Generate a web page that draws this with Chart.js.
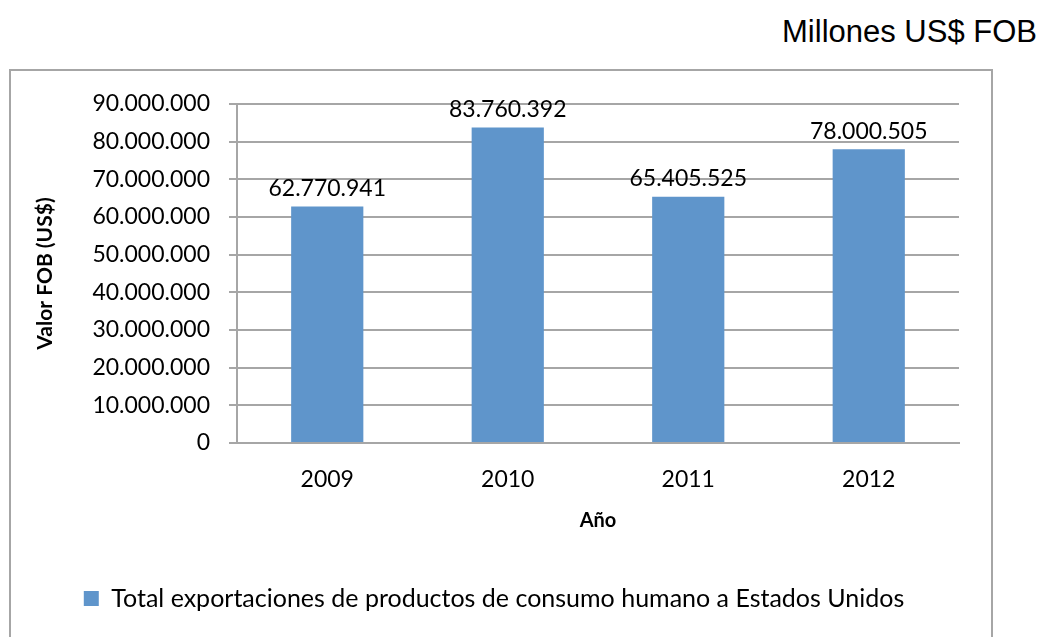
<!DOCTYPE html>
<html>
<head>
<meta charset="utf-8">
<script src="https://cdn.jsdelivr.net/npm/chart.js@4/dist/chart.umd.min.js"></script>
<style>
  html, body { margin: 0; padding: 0; background: #fff; overflow: hidden; }
  #unidad {
    position: absolute; right: 10px; top: 14px;
    font-family: "Liberation Sans", Arial, sans-serif; font-size: 31px; color: #000;
  }
  #marco {
    position: absolute; left: 9px; top: 69px;
    width: 980px; height: 600px;
    border: 2px solid #a6a6a6;
  }
</style>
</head>
<body>
<div id="unidad">Millones US$ FOB</div>
<div id="marco"><canvas id="exportChart" width="980" height="600"></canvas></div>
<script>
// Datos: exportaciones a Estados Unidos por año
const anios = ['2009', '2010', '2011', '2012'];
const valoresFOB = [62770941, 83760392, 65405525, 78000505];
const serieNombre = 'Total exportaciones de productos de consumo humano a Estados Unidos';
const ejeY = { min: 0, max: 90000000, paso: 10000000 };

const fuente = 'Lato';
const gris = '#a6a6a6';

// Formato con punto como separador de miles
function formatoMiles(v) {
    return String(Math.round(v)).replace(/\B(?=(\d{3})+(?!\d))/g, '.');
}

// Etiquetas de valor sobre cada barra
const etiquetasValor = {
    id: 'etiquetasValor',
    afterDatasetsDraw(chart) {
        const ctx = chart.ctx;
        const meta = chart.getDatasetMeta(0);
        ctx.save();
        ctx.font = '23px ' + fuente;
        ctx.fillStyle = '#000';
        ctx.textAlign = 'center';
        ctx.textBaseline = 'middle';
        meta.data.forEach((bar, i) => {
            ctx.fillText(formatoMiles(chart.data.datasets[0].data[i]), bar.x, bar.y - 18);
        });
        ctx.restore();
    }
};

const ctx = document.getElementById('exportChart').getContext('2d');
const exportChart = new Chart(ctx, {
    type: 'bar',
    data: {
        labels: anios,
        datasets: [{
            label: serieNombre,
            data: valoresFOB,
            backgroundColor: '#5f95cb',
            borderWidth: 0,
            barPercentage: 0.4,
            categoryPercentage: 1.0
        }]
    },
    options: {
        responsive: false,
        animation: false,
        layout: { padding: { left: 18, right: 32, top: 33, bottom: 50 } },
        plugins: {
            tooltip: { enabled: false },
            legend: {
                position: 'bottom',
                align: 'center',
                labels: {
                    color: '#000',
                    font: { family: fuente, size: 25 },
                    boxWidth: 15,
                    boxHeight: 15,
                    padding: 43
                }
            }
        },
        scales: {
            x: {
                grid: { display: false, drawTicks: false },
                border: { display: true, color: gris, width: 2 },
                ticks: { color: '#000', font: { family: fuente, size: 23 }, padding: 23 },
                title: {
                    display: true,
                    text: 'Año',
                    color: '#000',
                    font: { family: fuente, size: 20, weight: 'bold' },
                    padding: { top: 10, bottom: 10 }
                },
                afterFit(scale) { scale.height = 100; }
            },
            y: {
                min: ejeY.min,
                max: ejeY.max,
                grid: { color: gris, lineWidth: 2, tickLength: 8 },
                border: { display: true, color: gris, width: 2 },
                ticks: {
                    stepSize: ejeY.paso,
                    color: '#000',
                    font: { family: fuente, size: 23 },
                    padding: 19,
                    callback: v => formatoMiles(v)
                },
                title: {
                    display: true,
                    text: 'Valor FOB (US$)',
                    color: '#000',
                    font: { family: fuente, size: 21, weight: 'bold' },
                    padding: 4
                },
                afterFit(scale) { scale.width = 208; }
            }
        }
    },
    plugins: [etiquetasValor]
});
</script>
</body>
</html>
